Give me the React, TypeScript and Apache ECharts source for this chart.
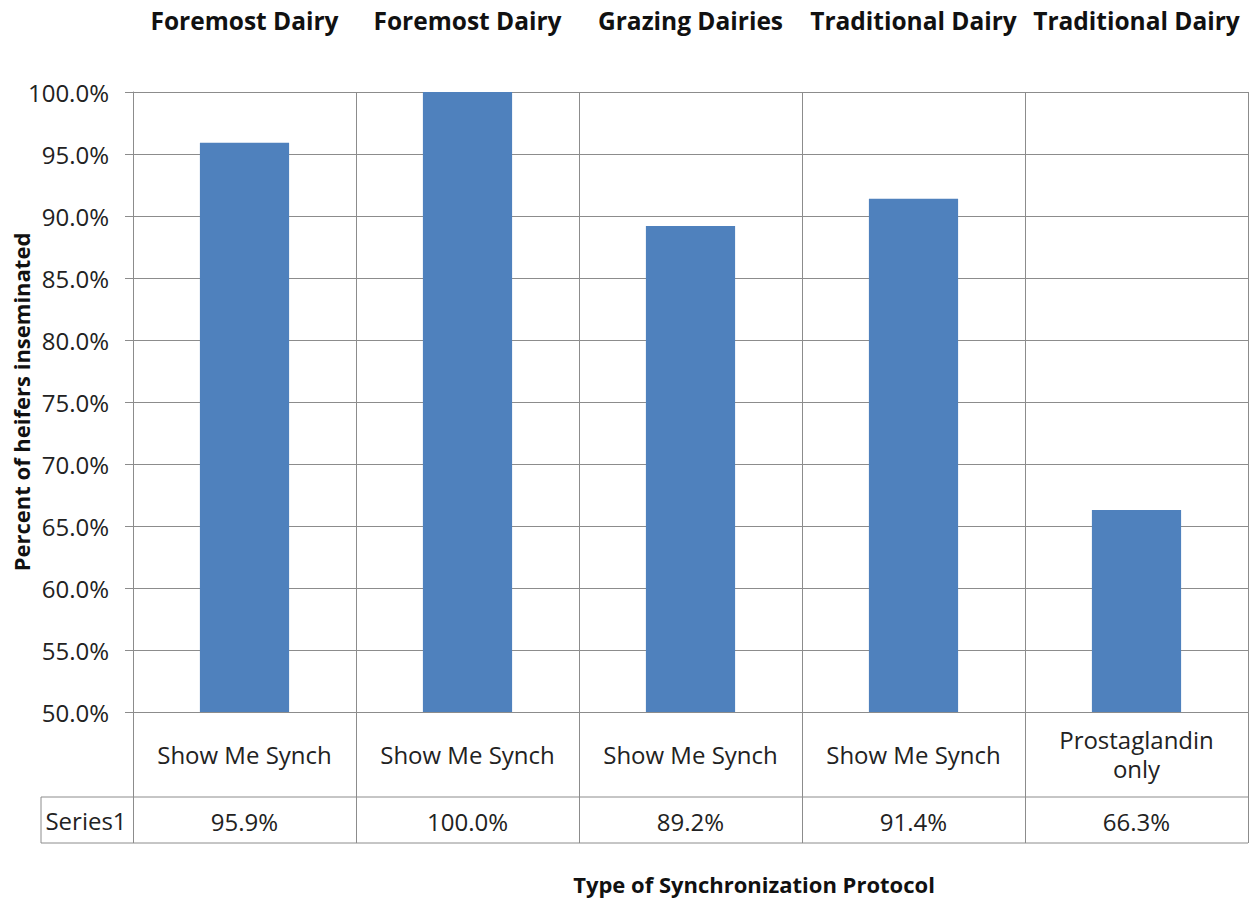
import React, { useEffect, useRef } from "react";
import * as echarts from "echarts";

const categories = ["Show Me Synch", "Show Me Synch", "Show Me Synch", "Show Me Synch", "Prostaglandin\nonly"];
const groups = ["Foremost Dairy", "Foremost Dairy", "Grazing Dairies", "Traditional Dairy", "Traditional Dairy"];
const values = [95.9, 100.0, 89.2, 91.4, 66.3];
const seriesName = "Series1";
const yMin = 50;
const yMax = 100;
const yStep = 5;
const yTitle = "Percent of heifers inseminated";
const xTitle = "Type of Synchronization Protocol";

const FONT = "'Open Sans', 'Noto Sans', sans-serif";
const GRID = "#8c8c8c";
const TXT = "#222222";

export default function App() {
  const ref = useRef<HTMLDivElement>(null);
  useEffect(() => {
    if (!ref.current) return;
    const chart = echarts.init(ref.current, undefined, { renderer: "svg" });
    const left = 133;
    const right = 1;
    const plotTop = 92;
    const plotBottom = 712;
    const tableMid = 797;
    const tableBottom = 843;
    chart.setOption({
      animation: false,
      backgroundColor: "#ffffff",
      textStyle: { fontFamily: FONT },
      grid: [
        { left, right, top: plotTop, bottom: 900 - plotBottom, outerBoundsMode: "none", containLabel: false },
        { left, right, top: 820, height: 1, outerBoundsMode: "none", containLabel: false },
      ],
      xAxis: [
        {
          type: "category",
          gridIndex: 0,
          position: "bottom",
          data: categories,
          axisLine: { show: true, lineStyle: { color: GRID, width: 1 } },
          axisTick: { show: true, interval: 0, length: tableBottom - plotBottom, lineStyle: { color: GRID, width: 1 } },
          splitLine: { show: true, interval: 0, lineStyle: { color: GRID, width: 1 } },
          axisLabel: {
            interval: 0,
            margin: 42,
            verticalAlign: "middle",
            fontSize: 24,
            lineHeight: 29,
            color: TXT,
            fontFamily: FONT,
          },
        },
        {
          type: "category",
          gridIndex: 0,
          position: "top",
          data: groups,
          axisLine: { show: false },
          axisTick: { show: false },
          splitLine: { show: false },
          axisLabel: {
            interval: 0,
            margin: 72,
            verticalAlign: "middle",
            fontSize: 24.5,
            fontWeight: "bold",
            color: "#111111",
            fontFamily: FONT,
          },
        },
        {
          type: "category",
          gridIndex: 1,
          position: "bottom",
          data: categories,
          axisLine: { show: false },
          axisTick: { show: false },
          splitLine: { show: false },
          axisLabel: {
            interval: 0,
            margin: 0,
            verticalAlign: "middle",
            fontSize: 24,
            color: TXT,
            fontFamily: FONT,
            formatter: (_v: string, i: number) => values[i].toFixed(1) + "%",
          },
        },
      ],
      yAxis: [
        {
          type: "value",
          gridIndex: 0,
          min: yMin,
          max: yMax,
          interval: yStep,
          name: yTitle,
          nameLocation: "middle",
          nameGap: 101,
          nameMoveOverlap: false,
          nameTextStyle: { fontSize: 22, fontWeight: "bold", color: "#111111", fontFamily: FONT },
          axisLine: { show: true, lineStyle: { color: GRID, width: 1 } },
          axisTick: { show: true, length: 8, lineStyle: { color: GRID, width: 1 } },
          splitLine: { show: true, lineStyle: { color: GRID, width: 1 } },
          axisLabel: {
            margin: 24,
            fontSize: 24,
            color: TXT,
            fontFamily: FONT,
            formatter: (v: number) => v.toFixed(1) + "%",
          },
        },
        {
          type: "value",
          gridIndex: 1,
          show: false,
        },
      ],
      series: [
        {
          type: "bar",
          name: seriesName,
          xAxisIndex: 0,
          yAxisIndex: 0,
          data: values,
          barWidth: "40%",
          itemStyle: { color: "#4f81bd" },
        },
      ],
      graphic: [
        {
          type: "line",
          shape: { x1: 41, y1: tableMid, x2: 1248, y2: tableMid },
          style: { stroke: GRID, lineWidth: 1 },
        },
        {
          type: "line",
          shape: { x1: 41, y1: tableBottom, x2: 1248, y2: tableBottom },
          style: { stroke: GRID, lineWidth: 1 },
        },
        {
          type: "line",
          shape: { x1: 41, y1: tableMid, x2: 41, y2: tableBottom },
          style: { stroke: GRID, lineWidth: 1 },
        },
        {
          type: "text",
          x: 86,
          y: 820,
          style: {
            text: seriesName,
            fontSize: 24,
            fontFamily: FONT,
            fill: TXT,
            align: "center",
            verticalAlign: "middle",
          },
        },
        {
          type: "text",
          x: 754,
          y: 884,
          style: {
            text: xTitle,
            fontSize: 22,
            fontWeight: "bold",
            fontFamily: FONT,
            fill: "#111111",
            align: "center",
            verticalAlign: "middle",
          },
        },
      ],
    });
    return () => chart.dispose();
  }, []);
  return (
    <div
      ref={ref}
      style={{ position: "absolute", left: 0, top: 0, width: 1249, height: 900 }}
    />
  );
}
